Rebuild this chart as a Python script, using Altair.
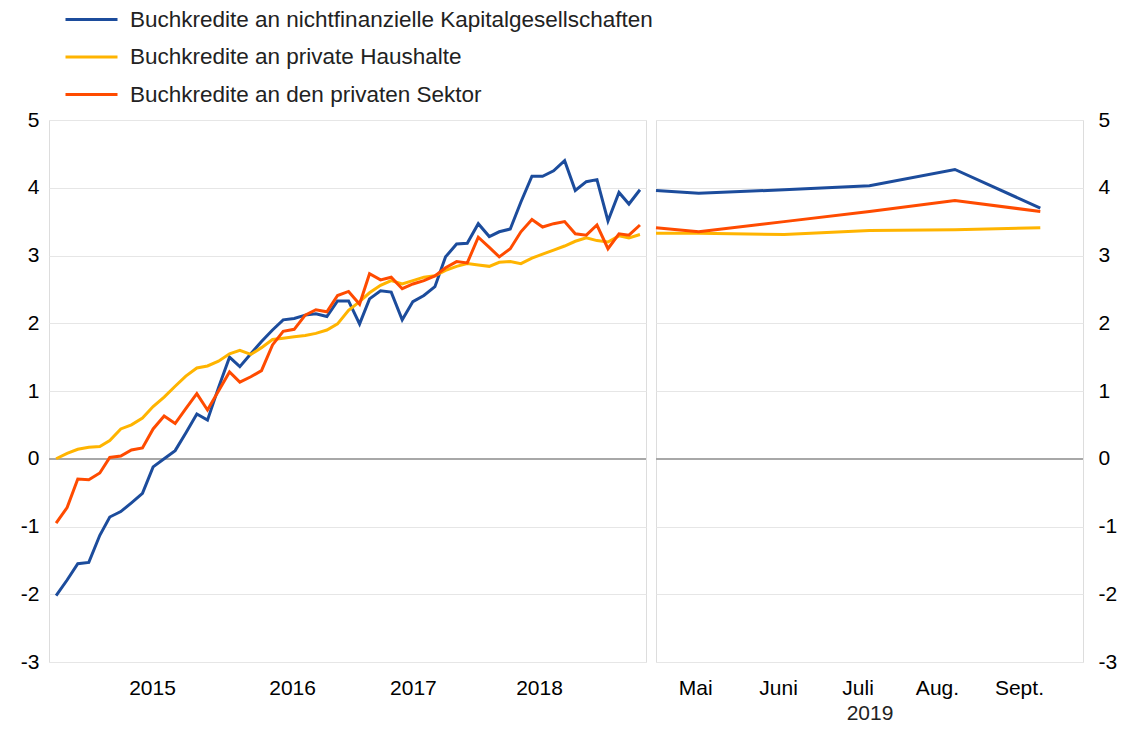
import json
import altair as alt
import pandas as pd

# ---------------- data ----------------
series = [
    "Buchkredite an nichtfinanzielle Kapitalgesellschaften",
    "Buchkredite an private Haushalte",
    "Buchkredite an den privaten Sektor",
]
colors = ["#1c4c9c", "#ffb400", "#ff4b00"]

# left panel: monthly, Oct 2014 - Apr 2019
left_start = "2014-10-01"
nfc_left = [-2.02, -1.79, -1.55,
            -1.53, -1.13, -0.86, -0.78, -0.65, -0.51, -0.12, 0.00, 0.12, 0.38, 0.66, 0.57,
            1.05, 1.50, 1.36, 1.55, 1.73, 1.90, 2.05, 2.07, 2.12, 2.14, 2.10, 2.33,
            2.33, 1.99, 2.36, 2.48, 2.46, 2.05, 2.32, 2.41, 2.54, 2.98, 3.17, 3.18,
            3.47, 3.28, 3.35, 3.39, 3.79, 4.17, 4.17, 4.25, 4.40, 3.96, 4.09, 4.12,
            3.51, 3.93, 3.76, 3.97]
hh_left = [0.00, 0.08, 0.14,
           0.17, 0.18, 0.27, 0.44, 0.50, 0.60, 0.77, 0.91, 1.07, 1.22, 1.34, 1.37,
           1.44, 1.55, 1.60, 1.54, 1.64, 1.76, 1.78, 1.80, 1.82, 1.85, 1.90, 1.99,
           2.19, 2.32, 2.45, 2.56, 2.63, 2.58, 2.63, 2.68, 2.70, 2.78, 2.84, 2.88,
           2.86, 2.84, 2.90, 2.91, 2.88, 2.96, 3.02, 3.08, 3.14, 3.21, 3.26, 3.22,
           3.20, 3.29, 3.26, 3.31]
ps_left = [-0.95, -0.72, -0.30,
           -0.31, -0.21, 0.02, 0.04, 0.13, 0.16, 0.44, 0.63, 0.52, 0.74, 0.96, 0.72,
           1.00, 1.28, 1.13, 1.21, 1.30, 1.68, 1.88, 1.91, 2.12, 2.20, 2.17, 2.41,
           2.47, 2.28, 2.73, 2.64, 2.68, 2.51, 2.58, 2.63, 2.70, 2.82, 2.91, 2.89,
           3.27, 3.12, 2.98, 3.10, 3.35, 3.53, 3.42, 3.47, 3.50, 3.32, 3.30, 3.45,
           3.10, 3.32, 3.30, 3.45]
left_domain = ["2014-09-11", "2019-04-18"]
year_ticks = ["2015-06-28", "2016-07-26", "2017-07-01", "2018-06-21"]

# right panel: 2019
right_pos = [4.5, 5, 6, 7, 8, 9]
nfc_right = [3.96, 3.92, 3.97, 4.03, 4.27, 3.70]
hh_right = [3.33, 3.33, 3.31, 3.37, 3.38, 3.41]
ps_right = [3.41, 3.35, 3.50, 3.65, 3.81, 3.65]
right_label_pos = [4.96, 5.93, 6.86, 7.79, 8.75]
right_tick_labels = ["Mai", "Juni", "Juli", "Aug.", "Sept."]
right_domain = [4.5, 9.5]
right_title = "2019"

y_ticks = [-3, -2, -1, 0, 1, 2, 3, 4, 5]

# ---------------- tables ----------------
dates = pd.date_range(left_start, periods=len(nfc_left), freq="MS").strftime("%Y-%m-%d").tolist()
df_left = pd.DataFrame({
    "date": dates * 3,
    "value": nfc_left + hh_left + ps_left,
    "series": [series[0]] * len(dates) + [series[1]] * len(dates) + [series[2]] * len(dates),
})
df_right = pd.DataFrame({
    "pos": right_pos * 3,
    "value": nfc_right + hh_right + ps_right,
    "series": [series[0]] * len(right_pos) + [series[1]] * len(right_pos) + [series[2]] * len(right_pos),
})


def ms(d):
    return int(pd.Timestamp(d).value // 10**6)


FONT = "Liberation Sans"
TXT = "#222222"
GRID = "#e6e6e6"
TICK_FS = 21

color_enc = alt.Color(
    "series:N",
    scale=alt.Scale(domain=series, range=colors),
    legend=alt.Legend(
        orient="none", legendX=15, legendY=-112, direction="vertical", title=None,
        symbolType="M-1,0H4.2", symbolSize=400, symbolStrokeWidth=3,
        labelFontSize=22.5, labelFont=FONT, labelColor=TXT, labelOffset=43,
        rowPadding=14.5, padding=0, labelLimit=0,
    ),
)

y_scale = alt.Scale(domain=[-3, 5], nice=False, zero=False)
y_label_expr = "'' + datum.value"

# ---------------- left panel ----------------
left_x = alt.X(
    "date:T",
    scale=alt.Scale(type="utc", domain=[ms(left_domain[0]), ms(left_domain[1])]),
    axis=alt.Axis(values=[ms(d) for d in year_ticks], format="%Y", grid=False, ticks=False,
                  domain=False, labelFontSize=TICK_FS, labelPadding=15, labelOverlap=False,
                  labelFlush=False, title=None),
)
left_y = alt.Y(
    "value:Q", scale=y_scale,
    axis=alt.Axis(values=y_ticks, labelExpr=y_label_expr, grid=True, gridColor=GRID, ticks=False,
                  domain=False, labelFontSize=TICK_FS, labelPadding=10, title=None),
)

left_base = alt.Chart(df_left)
left_zero = left_base.mark_rule(color="#a8a8a8", strokeWidth=1.5).encode(y=alt.datum(0))
left_lines = left_base.mark_line(strokeWidth=3).encode(x=left_x, y=left_y, color=color_enc)
left = alt.layer(left_zero, left_lines).properties(width=597, height=542)

# ---------------- right panel ----------------
label_expr = (f"{json.dumps(right_tick_labels)}"
              f"[indexof({json.dumps(right_label_pos)}, datum.value)]")
right_x = alt.X(
    "pos:Q",
    scale=alt.Scale(domain=right_domain, nice=False, zero=False),
    axis=alt.Axis(values=right_label_pos, labelExpr=label_expr, grid=False, ticks=False,
                  domain=False, labelFontSize=TICK_FS, labelPadding=15, labelOverlap=False,
                  labelFlush=False, title=right_title, titleFontSize=TICK_FS,
                  titleFontWeight="normal", titleFont=FONT, titleColor=TXT, titlePadding=4),
)
right_y = alt.Y(
    "value:Q", scale=y_scale,
    axis=alt.Axis(values=y_ticks, labelExpr=y_label_expr, orient="right", grid=True,
                  gridColor=GRID, ticks=False, domain=False, labelFontSize=TICK_FS,
                  labelPadding=15, title=None),
)
right_base = alt.Chart(df_right)
right_zero = right_base.mark_rule(color="#a8a8a8", strokeWidth=1.5).encode(y=alt.datum(0))
right_lines = right_base.mark_line(strokeWidth=3).encode(x=right_x, y=right_y, color=color_enc)
right = alt.layer(right_zero, right_lines).properties(width=427, height=542)

chart = (
    alt.hconcat(left, right, spacing=1)
    .resolve_scale(color="shared")
    .properties(padding={"left": 11, "top": 0, "right": 0, "bottom": 0})
    .configure_view(stroke="#d9d9d9", strokeWidth=1)
    .configure_axis(labelFont=FONT, labelColor=TXT)
    .configure(background="white")
)

chart.save("out.html", embed_options={"renderer": "svg", "actions": False})
